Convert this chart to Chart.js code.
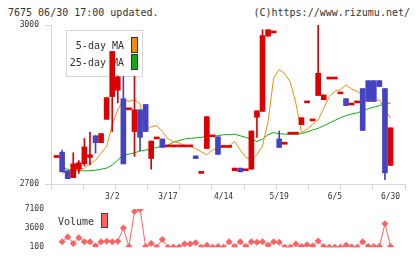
<!DOCTYPE html>
<html>
<head>
<meta charset="utf-8">
<script src="https://cdn.jsdelivr.net/npm/chart.js@4/dist/chart.umd.min.js"></script>
<style>
  html, body { margin: 0; padding: 0; background: #fff; }
  #wrap { position: relative; width: 420px; height: 259px; overflow: hidden; }
  #wrap canvas { position: absolute; left: 0; top: 0; }
  .hdr { position: absolute; top: 7px; font: 10px 'DejaVu Sans Mono', monospace; color: #333; white-space: pre; line-height: 12px; }
</style>
</head>
<body>
<div id="wrap">
  <div class="hdr" style="left:8px">7675 06/30 17:00 updated.</div>
  <div class="hdr" style="right:10px">(C)https://www.rizumu.net/</div>
  <canvas id="priceChart" width="420" height="259"></canvas>
  <canvas id="volumeChart" width="420" height="259"></canvas>
</div>
<script>
// daily candles, oldest first
const opens = [2750, 2760, 2725, 2712, 2728, 2738, 2750, 2791, 2778, 2822,
    2865, 2877, 2861, 2840, 2799, 2840, 2850, 2748, 2785, 2785,
    2770, 2770, 2770, 2770, 2770, 2753, 2720, 2767, 2789, 2789,
    2769, 2769, 2725, 2730, 2725, 2728, 2826, 2837, 2979, 2985,
    2785, 2775, 2794, 2794, 2812, 2853, 2819, 2867, 2859, 2898,
    2898, 2870, 2861, 2849, 2853, 2880, 2895, 2895, 2895, 2880, 2735];
const closes = [2750, 2723, 2710, 2738, 2740, 2770, 2755, 2778, 2795, 2863,
    2950, 2902, 2738, 2840, 2840, 2788, 2799, 2781, 2785, 2769,
    2770, 2770, 2770, 2770, 2770, 2748, 2720, 2827, 2789, 2756,
    2769, 2769, 2730, 2723, 2725, 2800, 2838, 2980, 2991, 2985,
    2769, 2775, 2794, 2794, 2825, 2853, 2819, 2909, 2868, 2898,
    2898, 2870, 2848, 2849, 2853, 2801, 2856, 2856, 2884, 2721, 2806];
const highs = [2750, 2764, 2725, 2759, 2744, 2786, 2798, 2791, 2795, 2863,
    2950, 2904, 2903, 2840, 2903, 2840, 2850, 2781, 2785, 2785,
    2770, 2770, 2770, 2770, 2770, 2753, 2720, 2827, 2789, 2789,
    2769, 2769, 2730, 2730, 2725, 2800, 2838, 2991, 2991, 2985,
    2800, 2775, 2794, 2794, 2825, 2853, 2819, 3000, 2868, 2898,
    2898, 2870, 2861, 2849, 2853, 2880, 2895, 2895, 2895, 2880, 2806];
const lows = [2750, 2723, 2710, 2712, 2720, 2734, 2736, 2758, 2778, 2822,
    2799, 2853, 2738, 2840, 2752, 2763, 2799, 2728, 2785, 2769,
    2770, 2770, 2770, 2770, 2770, 2748, 2720, 2767, 2789, 2756,
    2769, 2769, 2725, 2723, 2725, 2728, 2788, 2837, 2979, 2985,
    2769, 2775, 2794, 2794, 2812, 2853, 2819, 2867, 2859, 2898,
    2898, 2870, 2848, 2849, 2853, 2801, 2856, 2856, 2884, 2708, 2735];

const ma5 = [null, 2720, 2723, 2725, 2727, 2730, 2738, 2745, 2758, 2771,
    2812, 2840, 2859, 2856, 2859, 2851, 2802, 2808, 2810, 2799,
    2785, 2780, 2778, 2772, 2771, 2767, 2761, 2755, 2764, 2768,
    2770, 2772, 2780, 2764, 2750, 2747, 2755, 2772, 2818, 2900,
    2916, 2908, 2892, 2852, 2797, 2803, 2812, 2821, 2843, 2865,
    2875, 2878, 2887, 2879, 2875, 2867, 2857, 2856, 2859, 2840, 2824];
const ma25 = [null, 2730, 2728, 2725, 2725, 2725, 2725, 2726, 2728, 2730,
    2736, 2745, 2755, 2756, 2759, 2762, 2764, 2766, 2769, 2771,
    2773, 2779, 2782, 2785, 2786, 2787, 2788, 2790, 2791, 2791,
    2793, 2793, 2794, 2791, 2788, 2785, 2780, 2785, 2793, 2797,
    2795, 2794, 2794, 2794, 2795, 2798, 2802, 2805, 2810, 2815,
    2820, 2825, 2829, 2832, 2834, 2838, 2842, 2845, 2848, 2851, 2853];

const volumes = [null, 1100, 1970, 800, 1850, 1100, 1100, 330, 1100, 1200,
    1100, 1200, 3600, 220, 6630, 7050, 220, 800, 100, 1500,
    100, 150, 150, 700, 700, 920, 100, 450, 100, 220,
    100, 1100, 220, 1100, 220, 1100, 1000, 1100, 450, 1100,
    1000, 100, 100, 700, 220, 550, 330, 1250, 220, 100,
    100, 100, 450, 150, 100, 1100, 220, 220, 220, 4420, 220];

const dateLabels = ['3/2', '3/17', '4/14', '5/19', '6/5', '6/30'];
const dateIdx = [10, 20, 30, 40, 50, 60];
const priceTicks = [2700, 3000];
const volTicks = [100, 3600, 7100];

const xMin = -1;
const xMax = 62.6;
const RED = '#dc0000';
const BLUE = '#4444c0';
const ORANGE = '#f08c14';
const GREEN = '#14a814';
const VOL = '#ff6262';
const AXIS = '#d6d6d6';

Chart.defaults.font.family = "'DejaVu Sans Mono', monospace";
Chart.defaults.font.size = 8;
Chart.defaults.color = '#333';
Chart.defaults.animation = false;
Chart.defaults.plugins.legend.display = false;
Chart.defaults.plugins.tooltip.enabled = false;

const idx = opens.map((_, i) => i);
const candleColors = idx.map(i => closes[i] >= opens[i] ? RED : BLUE);

// legend box sits under the candles
const maLegend = {
    id: 'maLegend',
    beforeDatasetsDraw(chart) {
        const ctx = chart.ctx;
        ctx.save();
        ctx.fillStyle = '#fff';
        ctx.fillRect(66, 30, 77, 47);
        ctx.strokeStyle = AXIS;
        ctx.lineWidth = 1;
        ctx.strokeRect(66.5, 30.5, 76, 46);
        ctx.font = "10px 'DejaVu Sans Mono', monospace";
        ctx.fillStyle = '#333';
        ctx.textAlign = 'right';
        ctx.textBaseline = 'middle';
        ctx.fillText('5-day MA', 124, 46);
        ctx.fillText('25-day MA', 124, 63);
        ctx.strokeStyle = '#333';
        ctx.fillStyle = ORANGE;
        ctx.fillRect(131.5, 37.5, 6, 15);
        ctx.strokeRect(131.5, 37.5, 6, 15);
        ctx.fillStyle = GREEN;
        ctx.fillRect(131.5, 54.5, 6, 15);
        ctx.strokeRect(131.5, 54.5, 6, 15);
        ctx.restore();
    }
};

const volLegend = {
    id: 'volLegend',
    afterDraw(chart) {
        const ctx = chart.ctx;
        ctx.save();
        ctx.font = "10px 'DejaVu Sans Mono', monospace";
        ctx.fillStyle = '#333';
        ctx.textAlign = 'left';
        ctx.textBaseline = 'middle';
        ctx.fillText('Volume', 58, 222);
        ctx.fillStyle = VOL;
        ctx.strokeStyle = '#444';
        ctx.lineWidth = 1;
        ctx.fillRect(101.5, 213.5, 6, 14);
        ctx.strokeRect(101.5, 213.5, 6, 14);
        ctx.restore();
    }
};

const tickColor = c => (c.tick && c.tick.text) ? 'rgba(0,0,0,0)' : AXIS;

// eslint-disable-next-line no-unused-vars
const priceChart = new Chart(document.getElementById('priceChart'), {
    type: 'bar',
    data: {
        datasets: [
            {
                type: 'line',
                label: '5-day MA',
                data: idx.map(i => ({ x: i, y: ma5[i] })),
                borderColor: ORANGE,
                borderWidth: 1,
                pointRadius: 0,
                order: 2
            },
            {
                type: 'line',
                label: '25-day MA',
                data: idx.map(i => ({ x: i, y: ma25[i] })),
                borderColor: GREEN,
                borderWidth: 1,
                pointRadius: 0,
                order: 2
            },
            {
                label: 'wick',
                data: idx.map(i => ({ x: i, y: highs[i] > lows[i] ? [lows[i], highs[i]] : null })),
                backgroundColor: candleColors,
                barThickness: 1,
                grouped: false,
                order: 1
            },
            {
                label: 'body',
                data: idx.map(i => ({ x: i, y: [opens[i], closes[i]] })),
                backgroundColor: candleColors,
                barThickness: 5,
                minBarLength: 2,
                grouped: false,
                order: 0
            }
        ]
    },
    options: {
        responsive: false,
        devicePixelRatio: 1,
        layout: { padding: { top: 25, right: 15, left: 0, bottom: 0 } },
        scales: {
            x: {
                type: 'linear',
                min: xMin,
                max: xMax,
                offset: false,
                afterFit: s => { s.height = 75; },
                afterBuildTicks: s => {
                    const step = (xMax - xMin) / 11;
                    const marks = [];
                    for (let k = 0; k <= 11; k++) marks.push({ value: xMin + k * step });
                    dateIdx.forEach((v, i) => marks.push({ value: v, text: dateLabels[i] }));
                    s.ticks = marks.sort((a, b) => a.value - b.value);
                },
                grid: { offset: false, drawOnChartArea: false, tickLength: 6, color: tickColor, tickColor: tickColor },
                border: { color: AXIS },
                ticks: {
                    autoSkip: false,
                    maxRotation: 0,
                    padding: 2,
                    callback: (v, i, t) => t[i].text || ''
                }
            },
            y: {
                min: 2700,
                max: 3000,
                afterFit: s => { s.width = 51; },
                afterBuildTicks: s => { s.ticks = priceTicks.map(v => ({ value: v })); },
                grid: { drawOnChartArea: false, tickLength: 6, color: AXIS },
                border: { color: AXIS },
                ticks: { padding: 6, callback: v => String(v) }
            }
        }
    },
    plugins: [maLegend]
});

// eslint-disable-next-line no-unused-vars
const volumeChart = new Chart(document.getElementById('volumeChart'), {
    type: 'line',
    data: {
        datasets: [{
            label: 'Volume',
            data: idx.map(i => ({ x: i, y: volumes[i] })),
            borderColor: VOL,
            borderWidth: 1,
            pointStyle: 'rectRot',
            pointRadius: 3.5,
            pointBackgroundColor: VOL,
            pointBorderWidth: 0
        }]
    },
    options: {
        responsive: false,
        devicePixelRatio: 1,
        layout: { padding: { top: 209, right: 15, left: 0, bottom: 10 } },
        scales: {
            x: { type: 'linear', min: xMin, max: xMax, display: false },
            y: {
                min: 100,
                max: 7100,
                afterFit: s => { s.width = 51; },
                afterBuildTicks: s => { s.ticks = volTicks.map(v => ({ value: v })); },
                grid: { display: false, drawTicks: false },
                border: { display: false },
                ticks: { padding: 7, callback: v => String(v) }
            }
        }
    },
    plugins: [volLegend]
});
</script>
</body>
</html>
